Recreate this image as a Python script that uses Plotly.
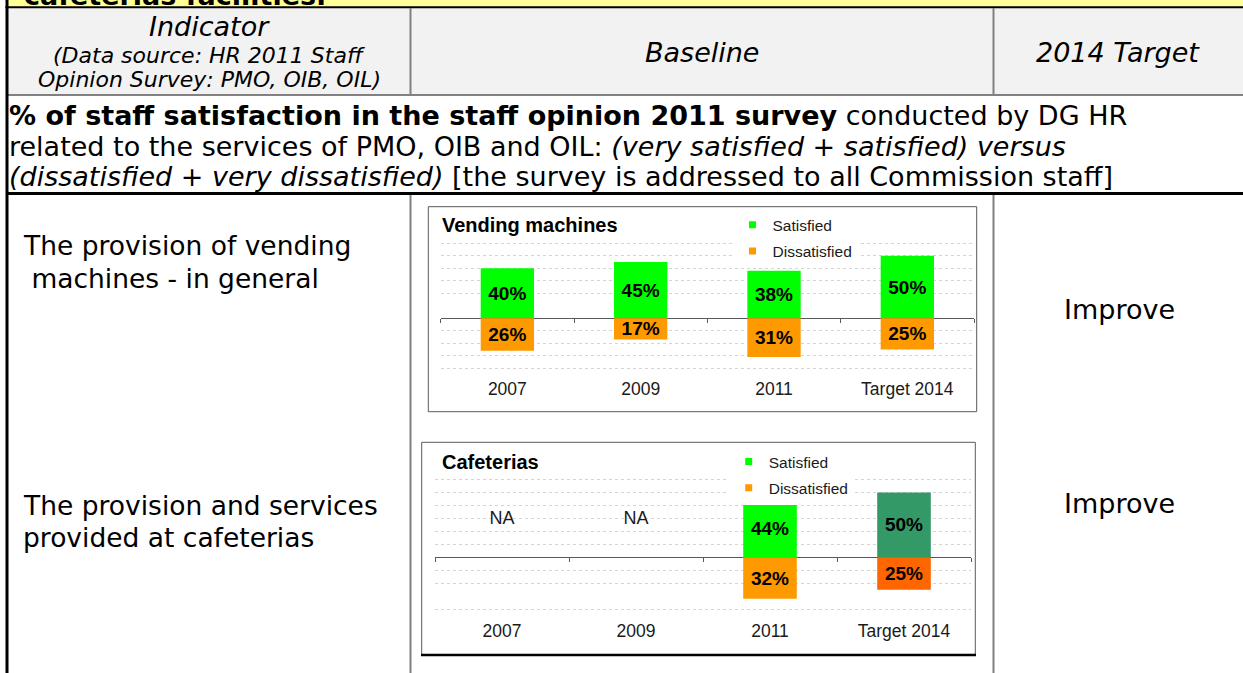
import plotly.graph_objects as go

W, H = 1243, 673

# ---------------- data ----------------
categories = ["2007", "2009", "2011", "Target 2014"]
vending_satisfied = [40, 45, 38, 50]
vending_dissatisfied = [26, 17, 31, 25]
cafeteria_satisfied = [None, None, 44, 50]
cafeteria_dissatisfied = [None, None, 32, 25]
vending_gridlines = [-40, -30, -20, -10, 20, 30, 40, 50, 60]
cafeteria_gridlines = [-40, -20, -10, 10, 20, 30, 40, 50, 60]
series_names = ["Satisfied", "Dissatisfied"]
chart_titles = ["Vending machines", "Cafeterias"]
missing_label = "NA"

header_strip_text = "cafeterias facilities."
header_indicator = "Indicator"
header_source = ["(Data source: HR 2011 Staff", "Opinion Survey: PMO, OIB, OIL)"]
header_baseline = "Baseline"
header_target = "2014 Target"
description_lines = [
    "<b>% of staff satisfaction in the staff opinion 2011 survey</b> conducted by DG HR",
    "related to the services of PMO, OIB and OIL: <i>(very satisfied + satisfied) versus</i>",
    "<i>(dissatisfied + very dissatisfied)</i> [the survey is addressed to all Commission staff]",
]
indicator_lines = [
    ["The provision of vending", " machines - in general"],
    ["The provision and services", "provided at cafeterias"],
]
target_values = ["Improve", "Improve"]

# ---------------- styles ----------------
TABLE_FONT = "DejaVu Sans"
CHART_FONT = "Liberation Sans"
GREEN = "#00ff00"
ORANGE = "#ff9900"
DARK_GREEN = "#339966"
RED_ORANGE = "#ff6600"
TEXT_DARK = "#1a1a1a"
BOX_GREY = "#595959"
SEP_GREY = "#808080"


def px(x):
    return x / W


def py(y):
    return 1 - y / H


fig = go.Figure()
annotations = []
shapes = []


def ann(x, y, text, size, family=TABLE_FONT, xanchor="left", color="black"):
    annotations.append(dict(
        x=px(x), y=py(y), xref="paper", yref="paper", text=text, showarrow=False,
        xanchor=xanchor, yanchor="middle", align="left" if xanchor == "left" else "center",
        font=dict(family=family, size=size, color=color)))


def hline(x0, x1, y, color, width):
    shapes.append(dict(type="line", xref="paper", yref="paper", x0=px(x0), x1=px(x1),
                       y0=py(y), y1=py(y), line=dict(color=color, width=width)))


def vline(x, y0, y1, color, width):
    shapes.append(dict(type="line", xref="paper", yref="paper", x0=px(x), x1=px(x),
                       y0=py(y0), y1=py(y1), line=dict(color=color, width=width)))


def rect(x0, y0, x1, y1, fill="rgba(0,0,0,0)", color="rgba(0,0,0,0)", width=0, layer="above"):
    shapes.append(dict(type="rect", xref="paper", yref="paper", x0=px(x0), x1=px(x1),
                       y0=py(y1), y1=py(y0), fillcolor=fill,
                       line=dict(color=color, width=width), layer=layer))


# ---------------- table frame ----------------
rect(8, -2, W + 2, 7, fill="#ffff99", layer="below")
rect(8, 8, W + 2, 94.5, fill="#f2f2f2", layer="below")
hline(5.5, W + 2, 7.3, "black", 2)
hline(7, W + 2, 95, BOX_GREY, 1.5)
hline(7, W + 2, 193.5, "black", 3)
vline(7, -2, H + 2, "black", 3)
for xs in (410.5, 993.5):
    vline(xs, 8, 94.5, SEP_GREY, 2)
    vline(xs, 195, H + 2, SEP_GREY, 2)

# ---------------- table text ----------------
ann(22, -5, "<b>" + header_strip_text + "</b>", 27)
ann(209, 27, "<i>" + header_indicator + "</i>", 27, xanchor="center")
ann(209, 55, "<i>" + header_source[0] + "</i>", 22, xanchor="center")
ann(209, 79, "<i>" + header_source[1] + "</i>", 22, xanchor="center")
ann(701.5, 53, "<i>" + header_baseline + "</i>", 27, xanchor="center")
ann(1118, 53, "<i>" + header_target + "</i>", 27, xanchor="center")
for line_text, yy in zip(description_lines, (115, 146, 177)):
    ann(7, yy, line_text, 27)
for lines, ys in zip(indicator_lines, ((245, 278), (505, 537))):
    for t, yy in zip(lines, ys):
        ann(21, yy, t.replace(" ", "&nbsp;", 1) if t.startswith(" ") else t, 26.5)
for t, yy in zip(target_values, (310, 503)):
    ann(1119.5, yy, t, 27, xanchor="center")

# ---------------- charts ----------------
chart_specs = [
    dict(title=chart_titles[0], sat=vending_satisfied, dis=vending_dissatisfied, grid=vending_gridlines,
         sat_colors=[GREEN] * 4, dis_colors=[ORANGE] * 4,
         left=440.7, right=974.0, zero=318.3, scale=1.25, yrange=[-46.6, 70],
         box=(428.3, 206.7, 976.7, 411.7), title_pos=(440, 225), legend_pos=(752.5, 223)),
    dict(title=chart_titles[1], sat=cafeteria_satisfied, dis=cafeteria_dissatisfied, grid=cafeteria_gridlines,
         sat_colors=[GREEN] * 3 + [DARK_GREEN], dis_colors=[ORANGE] * 3 + [RED_ORANGE],
         left=435.0, right=971.0, zero=557.3, scale=1.295, yrange=[-47.3, 70],
         box=(421.7, 442.3, 975.3, 654.5), title_pos=(440, 461.7), legend_pos=(748.7, 459.7)),
]

NA_LABEL_Y = 29
label_font = dict(family=CHART_FONT, size=19, color="black", weight="bold")

layout_axes = {}
for i, s in enumerate(chart_specs):
    k = i + 1
    xa = "x" if k == 1 else f"x{k}"
    ya = "y" if k == 1 else f"y{k}"
    xt = f"x{k + 2}"
    leg = "legend" if k == 1 else f"legend{k}"
    top_px = s["zero"] - s["yrange"][1] * s["scale"]
    bot_px = s["zero"] - s["yrange"][0] * s["scale"]
    ydom = [py(bot_px), py(top_px)]
    xdom = [px(s["left"]), px(s["right"])]
    zero_pos = ydom[0] + (0 - s["yrange"][0]) / (s["yrange"][1] - s["yrange"][0]) * (ydom[1] - ydom[0])

    sat_y = s["sat"]
    dis_y = [None if v is None else -v for v in s["dis"]]
    sat_txt = ["" if v is None else f"{v}%" for v in s["sat"]]
    dis_txt = ["" if v is None else f"{v}%" for v in s["dis"]]

    for yv, txt, cols in ((sat_y, sat_txt, s["sat_colors"]), (dis_y, dis_txt, s["dis_colors"])):
        fig.add_trace(go.Bar(
            x=categories, y=yv, text=txt, textposition="inside", insidetextanchor="middle",
            textangle=0, constraintext="none", textfont=label_font, insidetextfont=label_font,
            marker=dict(color=cols, line=dict(width=0)), xaxis=xa, yaxis=ya,
            showlegend=False, hoverinfo="skip"))

    missing = [c for c, v in zip(categories, s["sat"]) if v is None]
    if missing:
        fig.add_trace(go.Scatter(
            x=missing, y=[NA_LABEL_Y] * len(missing), mode="text", text=[missing_label] * len(missing),
            textposition="middle center", textfont=dict(family=CHART_FONT, size=18, color=TEXT_DARK),
            xaxis=xa, yaxis=ya, showlegend=False, hoverinfo="skip"))

    # helper trace carrying the category axis drawn on the zero line (boundary ticks)
    fig.add_trace(go.Scatter(x=categories, y=s["sat"], mode="markers", marker=dict(opacity=0),
                             xaxis=xt, yaxis=ya, showlegend=False, hoverinfo="skip"))

    for name, col in zip(series_names, (GREEN, ORANGE)):
        fig.add_trace(go.Scatter(x=[None], y=[None], mode="markers", name=name,
                                 marker=dict(symbol="square", size=7, color=col),
                                 legend=leg, legendgroup=f"{k}-{name}", xaxis=xa, yaxis=ya))

    layout_axes["xaxis" if k == 1 else f"xaxis{k}"] = dict(
        domain=xdom, anchor=ya, type="category", categoryorder="array", categoryarray=categories,
        range=[-0.5, len(categories) - 0.5], showgrid=False, showline=False, zeroline=False, ticks="",
        tickfont=dict(family=CHART_FONT, size=17.5, color=TEXT_DARK), fixedrange=True)
    layout_axes[f"xaxis{k + 2}"] = dict(
        domain=xdom, overlaying=xa, anchor="free", position=zero_pos, type="category",
        categoryorder="array", categoryarray=categories, range=[-0.5, len(categories) - 0.5],
        showgrid=False, showline=False, zeroline=False, showticklabels=False,
        ticks="outside", tickson="boundaries", ticklen=4, tickwidth=1, tickcolor=BOX_GREY, fixedrange=True)
    layout_axes["yaxis" if k == 1 else f"yaxis{k}"] = dict(
        domain=ydom, anchor=xa, range=s["yrange"], tickvals=s["grid"], showticklabels=False, ticks="",
        showgrid=True, gridcolor="#d4d4d4", griddash="dot", gridwidth=1,
        zeroline=True, zerolinecolor=BOX_GREY, zerolinewidth=1, showline=False, fixedrange=True)
    layout_axes[leg] = dict(
        x=px(s["legend_pos"][0] - 20), xanchor="left", y=py(s["legend_pos"][1] - 14.75), yanchor="top",
        bgcolor="white", borderwidth=0, tracegroupgap=3, traceorder="grouped",
        font=dict(family=CHART_FONT, size=15.5, color=TEXT_DARK))

    bx0, by0, bx1, by1 = s["box"]
    rect(bx0, by0, bx1, by1, color=BOX_GREY, width=1)
    ann(s["title_pos"][0], s["title_pos"][1], "<b>" + s["title"] + "</b>", 20, family=CHART_FONT)

# thick bottom edge of the second chart frame
hline(421, 976, 655, "black", 2.5)

fig.update_layout(
    width=W, height=H, margin=dict(l=0, r=0, t=0, b=0), autosize=False,
    paper_bgcolor="white", plot_bgcolor="rgba(0,0,0,0)", template="none",
    barmode="relative", bargap=0.6, hovermode=False,
    shapes=shapes, annotations=annotations, **layout_axes)

fig.write_html("out.html")
